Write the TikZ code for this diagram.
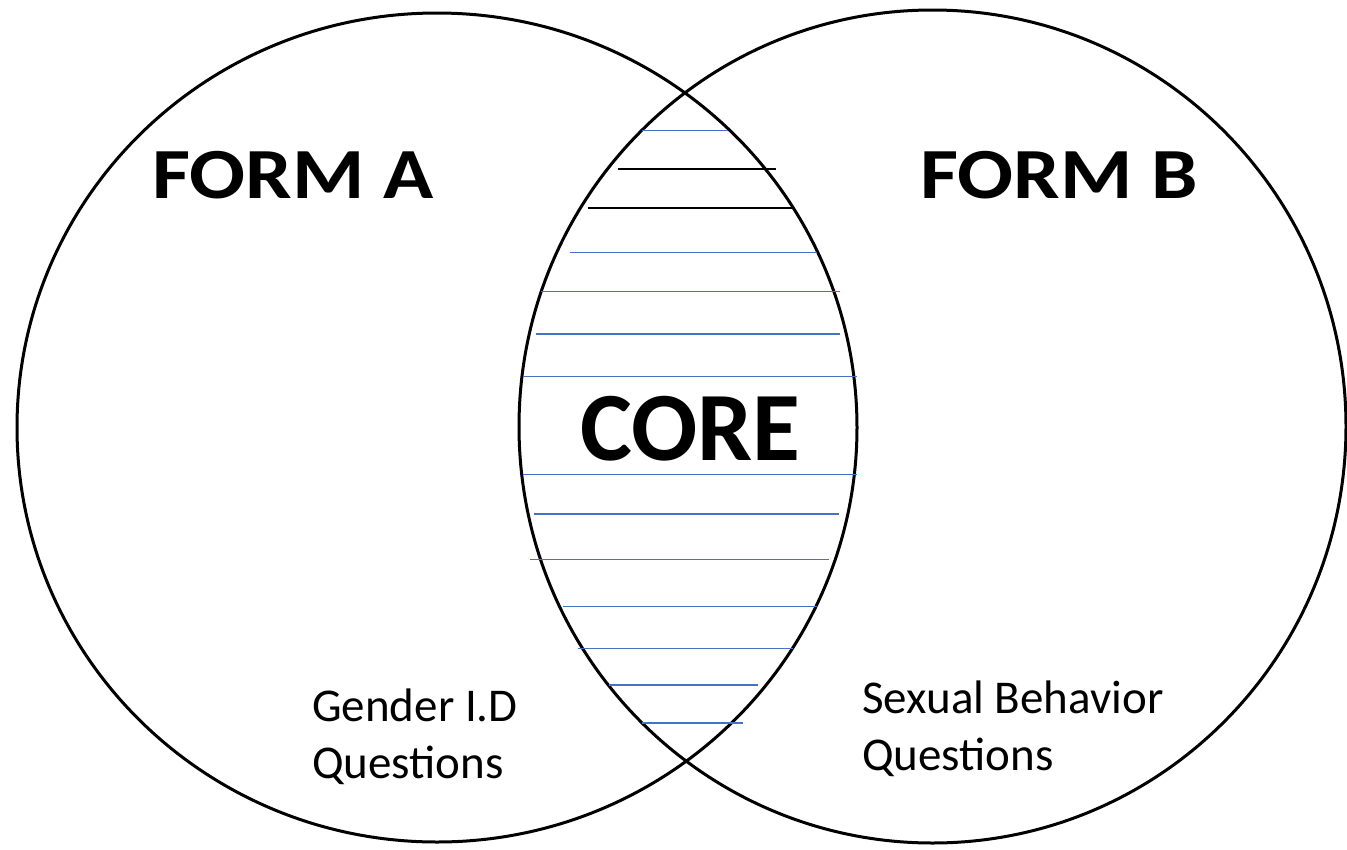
\documentclass[tikz,border=0pt]{standalone}
\usepackage{fontspec}
\setmainfont{Carlito}
\definecolor{hatchblue}{RGB}{68,114,196}
\begin{document}
\begin{tikzpicture}[x=1pt,y=-1pt,
  ring/.style={draw=black,line width=3pt},
  bluehatch/.style={draw=hatchblue,line width=1.1pt},
  blackhatch/.style={draw=black,line width=1.1pt},
  bigtitle/.style={inner sep=0pt,anchor=base west,font=\fontsize{72}{86}\selectfont\bfseries},
  coretitle/.style={inner sep=0pt,anchor=base west,font=\fontsize{98}{118}\selectfont\bfseries},
  note/.style={inner sep=0pt,anchor=base west,align=left,font=\fontsize{47}{57}\selectfont}]
\useasboundingbox[fill=white] (0,0) rectangle (1347,849);
% circles
\draw[ring] (437,427.5) ellipse [x radius=420, y radius=414.5];
\draw[ring] (932.5,426.5) ellipse [x radius=413.5, y radius=416.5];
% hatching
\draw[bluehatch] (641.7,130.3) -- (727.7,130.3);
\draw[blackhatch] (618,169) -- (775.7,169);
\draw[blackhatch] (587.7,208) -- (793.3,208);
\draw[bluehatch] (570,252.3) -- (817.3,252.3);
\draw[bluehatch] (540.7,291.7) -- (840,291.7);
\draw[bluehatch] (536,334) -- (840,334);
\draw[bluehatch] (523.3,376.3) -- (856.7,376.3);
\draw[bluehatch] (523.3,474.3) -- (856.7,474.3);
\draw[bluehatch] (534.3,514) -- (839.3,514);
\draw[bluehatch] (530,559.7) -- (829,559.7);
\draw[bluehatch] (563.3,606.7) -- (816.7,606.7);
\draw[bluehatch] (577.7,648.3) -- (793.3,648.3);
\draw[bluehatch] (609.3,685) -- (758.3,685);
\draw[bluehatch] (641.7,723) -- (743.3,723);
% labels
\node[bigtitle] (forma) at (152,198) {\scalebox{1.15}[1]{FORM A}};
\node[bigtitle] (formb) at (920,198) {\scalebox{1.15}[1]{FORM B}};
\node[coretitle] (core) at (580,460) {CORE};
\node[note] (gender) at (312,778) {Gender I.D\\Questions};
\node[note] (sexual) at (862,770) {Sexual Behavior\\Questions};
\end{tikzpicture}
\end{document}
